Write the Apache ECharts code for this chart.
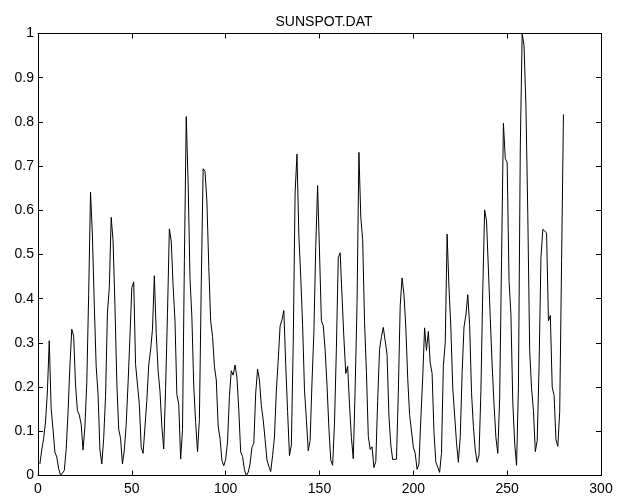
<!DOCTYPE html>
<html><head><meta charset="utf-8">
<script src="https://cdn.jsdelivr.net/npm/echarts@6/dist/echarts.min.js"></script>
<style>html,body{margin:0;padding:0;background:#fff}#c{width:625px;height:502px}</style>
</head><body><div id="c"></div>
<script>
const title = "SUNSPOT.DAT";
const xTicks = {min: 0, max: 300, interval: 50};
const yTicks = {min: 0, max: 1, interval: 0.1};
// normalized yearly sunspot values (index 1..280)
const sunspot = [
0.026,0.058,0.084,0.121,0.189,0.305,0.152,0.105,0.053,0.042,
0.016,0.000,0.000,0.011,0.058,0.142,0.247,0.331,0.315,0.205,
0.147,0.137,0.116,0.058,0.110,0.210,0.410,0.641,0.542,0.384,
0.247,0.184,0.058,0.026,0.084,0.179,0.368,0.426,0.584,0.531,
0.384,0.210,0.105,0.084,0.026,0.058,0.116,0.210,0.315,0.425,
0.438,0.251,0.251,0.161,0.064,0.050,0.054,0.170,0.250,0.284,
0.331,0.452,0.322,0.237,0.191,0.110,0.060,0.199,0.367,0.558,
0.530,0.429,0.350,0.183,0.161,0.037,0.104,0.486,0.812,0.662,
0.446,0.358,0.202,0.120,0.054,0.127,0.436,0.694,0.688,0.621,
0.473,0.350,0.315,0.247,0.216,0.112,0.084,0.034,0.022,0.036,
0.076,0.179,0.237,0.227,0.250,0.222,0.148,0.053,0.043,0.013,
0.000,0.007,0.026,0.064,0.073,0.186,0.241,0.216,0.158,0.126,
0.082,0.035,0.021,0.009,0.045,0.087,0.191,0.261,0.338,0.352,
0.373,0.251,0.145,0.045,0.069,0.299,0.639,0.727,0.543,0.451,
0.340,0.193,0.127,0.056,0.079,0.211,0.323,0.518,0.656,0.506,
0.350,0.339,0.284,0.205,0.108,0.035,0.023,0.119,0.288,0.493,
0.504,0.406,0.311,0.231,0.247,0.160,0.086,0.038,0.198,0.389,
0.731,0.585,0.534,0.348,0.235,0.089,0.059,0.065,0.018,0.032,
0.170,0.285,0.314,0.335,0.334,0.274,0.134,0.069,0.036,0.033,
0.037,0.187,0.384,0.447,0.410,0.336,0.220,0.138,0.140,0.064,
0.050,0.014,0.026,0.128,0.221,0.334,0.283,0.326,0.255,0.231,
0.098,0.030,0.019,0.007,0.050,0.249,0.300,0.546,0.424,0.334,
0.198,0.137,0.075,0.030,0.088,0.233,0.336,0.363,0.409,0.341,
0.188,0.111,0.058,0.030,0.046,0.190,0.419,0.601,0.576,0.467,
0.356,0.250,0.161,0.086,0.050,0.175,0.487,0.797,0.717,0.708,
0.441,0.365,0.166,0.073,0.023,0.200,0.745,1.000,0.972,0.836,
0.590,0.283,0.197,0.147,0.054,0.079,0.247,0.493,0.557,0.555,
0.549,0.350,0.362,0.200,0.181,0.081,0.066,0.145,0.486,0.817
];
const seriesData = sunspot.map((v, i) => [i + 1, v]);
const font = 'Liberation Sans, Arial, Helvetica, sans-serif';
function axisBase(show, margin) {
  return {
    axisLine: {show: true, onZero: false, lineStyle: {color: '#000', width: 1}},
    axisTick: {show: true, inside: true, length: 5, lineStyle: {color: '#000'}},
    splitLine: {show: false},
    axisLabel: {show: show, color: '#000', fontFamily: font, fontSize: 14, margin: margin}
  };
}
const chart = echarts.init(document.getElementById('c'), null, {renderer: 'canvas'});
chart.setOption({
  animation: false,
  backgroundColor: '#fff',
  title: {text: title, left: 319, textAlign: 'center', top: 10,
    textStyle: {fontFamily: font, fontSize: 14, fontWeight: 'normal', color: '#000'}},
  grid: {left: 38, right: 24, top: 33.5, bottom: 26.5, containLabel: false},
  xAxis: [
    Object.assign({type: 'value', position: 'bottom'}, xTicks, axisBase(true, 7)),
    Object.assign({type: 'value', position: 'top'}, xTicks, axisBase(false, 7))
  ],
  yAxis: [
    Object.assign({type: 'value', position: 'left'}, yTicks, axisBase(true, 4)),
    Object.assign({type: 'value', position: 'right'}, yTicks, axisBase(false, 4))
  ],
  series: [{type: 'line', data: seriesData, showSymbol: false, symbol: 'none',
    lineStyle: {color: '#000', width: 1}, xAxisIndex: 0, yAxisIndex: 0}]
});
</script></body></html>
